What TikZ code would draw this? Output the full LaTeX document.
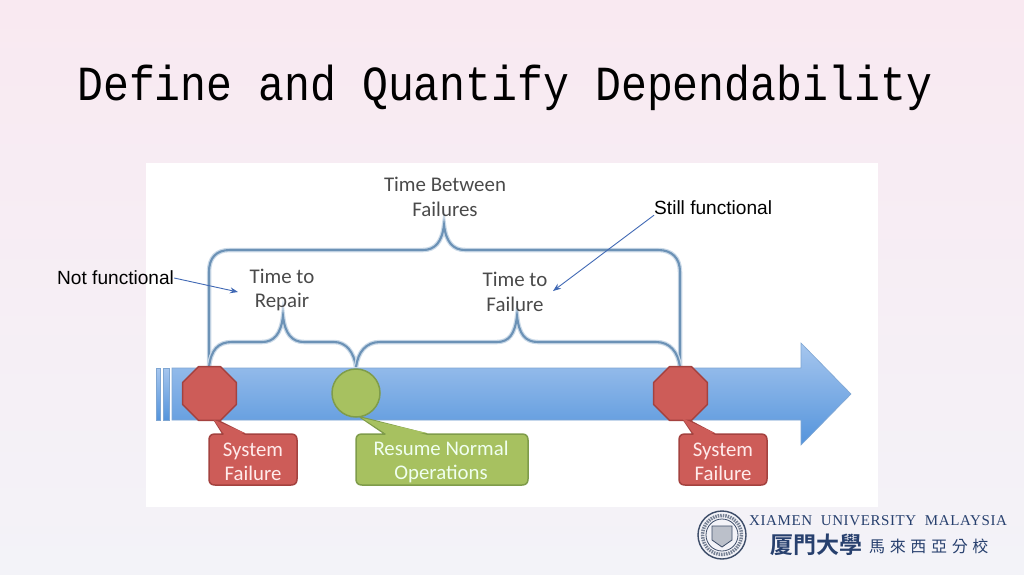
\documentclass[tikz,border=0pt]{standalone}
\usepackage{fontspec}
\setmainfont{Liberation Sans}
\newfontfamily\titlefont{Liberation Mono}[FakeStretch=0.881]
\newfontfamily\bodyfont{Carlito}
\newfontfamily\logofont{Liberation Serif}[LetterSpace=4]
\newfontfamily\cjkbig{Noto Sans CJK TC}[BoldFont={Noto Sans CJK TC Bold}]
\newfontfamily\cjksmall{Noto Sans CJK TC}[LetterSpace=29]
\usetikzlibrary{arrows.meta,shapes.geometric}
\definecolor{bgtop}{HTML}{F9E9F1}
\definecolor{bgbot}{HTML}{F3F3F8}
\definecolor{bracec}{HTML}{6C92B6}
\definecolor{braces}{HTML}{CBDAE8}
\definecolor{barline}{HTML}{7FA6D2}
\definecolor{bartop}{HTML}{A6C6EE}
\definecolor{barbot}{HTML}{5494DC}
\definecolor{redf}{HTML}{CD5C58}
\definecolor{redl}{HTML}{A4423F}
\definecolor{greenf}{HTML}{A7C160}
\definecolor{greenl}{HTML}{7F9C4A}
\definecolor{notec}{HTML}{4068B4}
\definecolor{labgrey}{HTML}{4A4A4A}
\definecolor{sealc}{HTML}{3C4C68}
\definecolor{logoc}{HTML}{27406E}
\tikzset{
  x=1pt,y=-1pt,
  brace/.style={draw=bracec,line width=2.1pt,rounded corners=0pt,
    preaction={draw=braces,line width=4.5pt}},
  timelabel/.style={font=\bodyfont\fontsize{20.9}{24.5}\selectfont,text=labgrey,align=center,inner sep=0pt},
  calltext/.style={font=\bodyfont\fontsize{20.8}{24}\selectfont,align=center,inner sep=0pt},
  redshape/.style={fill=redf,draw=redl,line width=1.5pt,line join=round},
  greenshape/.style={fill=greenf,draw=greenl,line width=1.5pt,line join=round},
  notelabel/.style={font=\fontsize{19.1}{21}\selectfont,text=black,inner sep=0pt},
  notearrow/.style={draw=notec,line width=0.9pt,-{Stealth[length=8pt,width=6pt]}},
  stripe/.style={top color=bartop,bottom color=barbot,draw=barline,line width=0.6pt},
}
\begin{document}
\begin{tikzpicture}
\useasboundingbox (0,0) rectangle (1024,574);
\shade[top color=bgtop,bottom color=bgbot,shading angle=0] (0,0) rectangle (1024,574);
\fill[white] (146,163) rectangle (878,507);

% title
\node[font=\titlefont\fontsize{49}{50}\selectfont,text=black,inner sep=0pt,anchor=base west] (title) at (77,100) {Define and Quantify Dependability};

% timeline
\path[stripe] (156,368) rectangle (160,420);
\path[stripe] (163,368) rectangle (169,420);
\path[stripe] (172,368) -- (801,368) -- (801,343) -- (851,394) -- (801,445) -- (801,420) -- (172,420) -- cycle;

% brace anchors
\coordinate (f1) at (209,367);
\coordinate (r1) at (356,367);
\coordinate (f2) at (680,367);

% braces
\path[brace] (f1) -- (209,272) .. controls (209,258) and (216,250) .. (230,250) -- (423,250)
  .. controls (435,250) and (442,242) .. (444,225)
  .. controls (446,242) and (453,250) .. (465,250) -- (658,250)
  .. controls (672,250) and (680,258) .. (680,272) -- (f2);
\path[brace] (f1) .. controls (211,350) and (218,342) .. (232,342) -- (262,342)
  .. controls (274,342) and (281,334) .. (283,316)
  .. controls (285,334) and (292,342) .. (304,342) -- (334,342)
  .. controls (346,342) and (354,352) .. (r1);
\path[brace] (r1) .. controls (358,352) and (366,342) .. (380,342) -- (497,342)
  .. controls (509,342) and (515,334) .. (517,316)
  .. controls (519,334) and (525,342) .. (538,342) -- (656,342)
  .. controls (670,342) and (678,352) .. (f2);

% time labels
\node[timelabel] (tbf) at (445,197) {Time Between\\Failures};
\node[timelabel] (ttr) at (282,290) {Time to\\Repair};
\node[timelabel] (ttf) at (515,292) {Time to\\Failure};

% callouts
\path[redshape] (213,418) -- (223,434) -- (215,434) .. controls (211,434) and (209,436) .. (209,440) -- (209,479)
  .. controls (209,483) and (211,485) .. (215,485) -- (291,485) .. controls (295,485) and (297,483) .. (297,479)
  -- (297,440) .. controls (297,436) and (295,434) .. (291,434) -- (245,434) -- cycle;
\path[greenshape] (360,417) -- (385,434) -- (362,434) .. controls (358,434) and (356,436) .. (356,440) -- (356,479)
  .. controls (356,483) and (358,485) .. (362,485) -- (522,485) .. controls (526,485) and (528,483) .. (528,479)
  -- (528,440) .. controls (528,436) and (526,434) .. (522,434) -- (427,434) -- cycle;
\path[redshape] (681,416) -- (693,434) -- (685,434) .. controls (681,434) and (679,436) .. (679,440) -- (679,479)
  .. controls (679,483) and (681,485) .. (685,485) -- (761,485) .. controls (765,485) and (767,483) .. (767,479)
  -- (767,440) .. controls (767,436) and (765,434) .. (761,434) -- (715,434) -- cycle;

% markers
\node[regular polygon,regular polygon sides=8,redshape,minimum size=58pt,inner sep=0pt] (oct1) at (209.5,393.5) {};
\node[regular polygon,regular polygon sides=8,redshape,minimum size=58pt,inner sep=0pt] (oct2) at (680.5,393.5) {};
\node[circle,greenshape,minimum size=48pt,inner sep=0pt] (res) at (356,393) {};
% pointer tips drawn over markers
\fill[redf] (214,420) -- (223,433) -- (245,433) -- cycle;
\fill[greenf] (362,418) -- (385,433) -- (427,433) -- cycle;
\fill[redf] (682,418) -- (693,433) -- (715,433) -- cycle;

\node[calltext,text=red!8!white] (sf1) at (253,462) {System\\Failure};
\node[calltext,text=green!6!white] (rn) at (441,462) {Resume Normal\\Operations};
\node[calltext,text=red!8!white] (sf2) at (723,462) {System\\Failure};

% notes
\node[notelabel,anchor=west] (nf) at (57,278) {Not functional};
\node[notelabel,anchor=west] (sfn) at (654,208) {Still functional};
\coordinate (nft) at (238,292);
\coordinate (sft) at (553,291);
\draw[notearrow] (nf.east) -- (nft);
\draw[notearrow] (sfn.south west) -- (sft);

% logo
\node[circle,draw=sealc,line width=1.4pt,minimum size=48pt,inner sep=0pt,fill=bgbot] (seal) at (722,535) {};
\draw[sealc!70,line width=3.5pt,dash pattern=on 1.5pt off 1pt] (seal.center) circle[radius=19.5];
\draw[sealc,line width=0.8pt] (seal.center) circle[radius=16];
\path[draw=sealc,fill=sealc!35,line width=0.8pt] (712,526) -- (732,526) -- (732,540) -- (722,547) -- (712,540) -- cycle;
\node[font=\logofont\fontsize{15}{16}\selectfont,text=logoc,inner sep=0pt,anchor=west] (lg1) at (749,521) {XIAMEN\ \ UNIVERSITY\ \ MALAYSIA};
\node[font=\cjkbig\bfseries\fontsize{23}{24}\selectfont,text=logoc,inner sep=0pt,anchor=west] (lg2) at (770,545) {厦門大學};
\node[font=\cjksmall\fontsize{16}{17}\selectfont,text=logoc,inner sep=0pt,anchor=west] (lg3) at (869,546) {馬來西亞分校};
\end{tikzpicture}
\end{document}
